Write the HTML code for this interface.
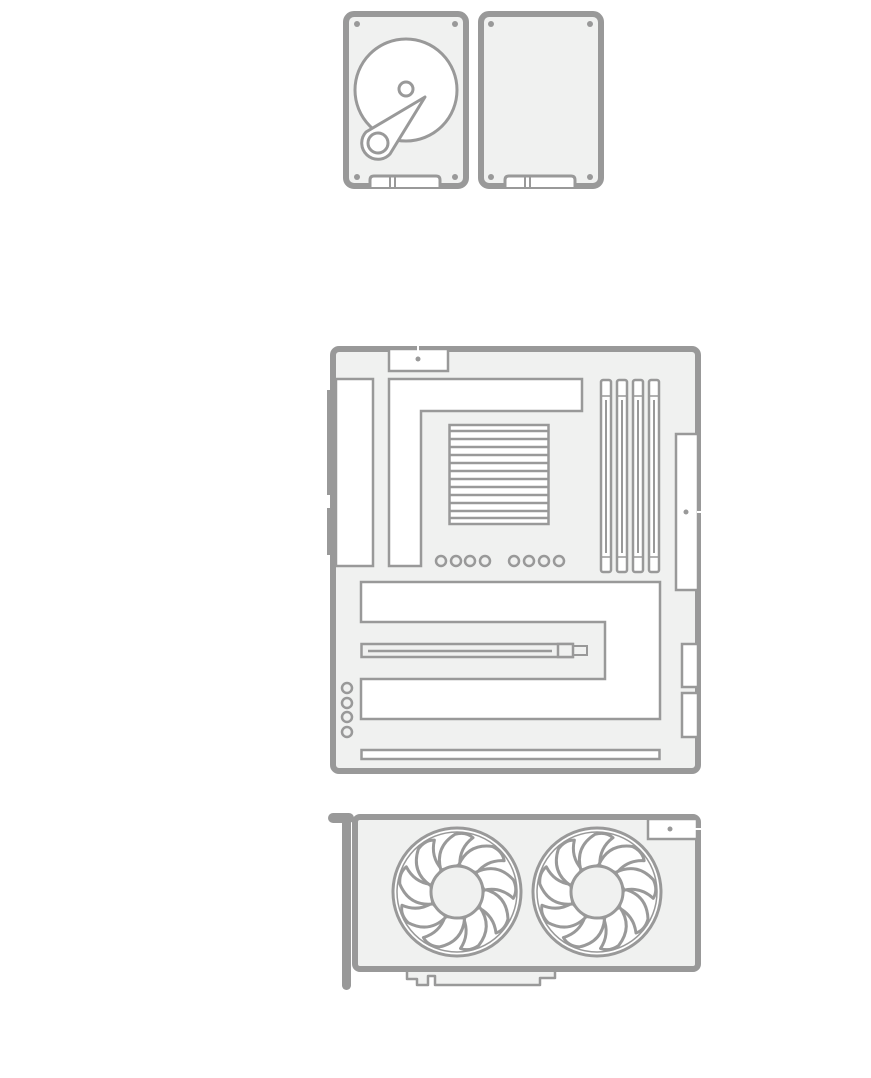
<!DOCTYPE html>
<html><head><meta charset="utf-8"><style>html,body{margin:0;padding:0;background:#fff}svg{display:block}</style></head>
<body>
<svg width="871" height="1078" viewBox="0 0 871 1078" xmlns="http://www.w3.org/2000/svg">
<defs>
<g id="blade"><path d="M27,-3 Q50,3 51,27 Q48,38 39,41 Q37,24 22,16 Z" fill="#fff" stroke="#999" stroke-width="3" stroke-linejoin="round"/></g>
<g id="fan">
<circle r="64" fill="#fff" stroke="#999" stroke-width="3"/>
<circle r="60" fill="none" stroke="#999" stroke-width="1.5"/>
<use href="#blade"/><use href="#blade" transform="rotate(40)"/><use href="#blade" transform="rotate(80)"/><use href="#blade" transform="rotate(120)"/><use href="#blade" transform="rotate(160)"/><use href="#blade" transform="rotate(200)"/><use href="#blade" transform="rotate(240)"/><use href="#blade" transform="rotate(280)"/><use href="#blade" transform="rotate(320)"/>
<circle r="26" fill="#f0f1f0" stroke="#999" stroke-width="3"/>
</g>
</defs>
<g fill="none" stroke="#999">
<!-- HDD -->
<rect x="346" y="14" width="120" height="172" rx="8" fill="#f0f1f0" stroke-width="6"/>
<circle cx="406" cy="90" r="51" fill="#fff" stroke-width="3"/>
<circle cx="406" cy="89" r="7" stroke-width="3"/>
<path d="M425,97 L390,154 A16,16 0 1 1 366,132 Z" fill="#fff" stroke-width="3" stroke-linejoin="round"/>
<circle cx="378" cy="143" r="10" fill="#fff" stroke-width="3"/>
<path d="M370,187 V180 Q370,176 374,176 H436 Q440,176 440,180 V187" fill="#fff" stroke-width="3"/>
<line x1="390" y1="176" x2="390" y2="187" stroke-width="2"/><line x1="395" y1="176" x2="395" y2="187" stroke-width="2"/>
<g fill="#999" stroke="none"><circle cx="357" cy="24" r="3"/><circle cx="455" cy="24" r="3"/><circle cx="357" cy="177" r="3"/><circle cx="455" cy="177" r="3"/></g>
<!-- SSD -->
<rect x="481" y="14" width="120" height="172" rx="8" fill="#f0f1f0" stroke-width="6"/>
<path d="M505,187 V180 Q505,176 509,176 H571 Q575,176 575,180 V187" fill="#fff" stroke-width="3"/>
<line x1="525" y1="176" x2="525" y2="187" stroke-width="2"/><line x1="530" y1="176" x2="530" y2="187" stroke-width="2"/>
<g fill="#999" stroke="none"><circle cx="491" cy="24" r="3"/><circle cx="590" cy="24" r="3"/><circle cx="491" cy="177" r="3"/><circle cx="590" cy="177" r="3"/></g>

<!-- Motherboard -->
<rect x="333" y="349" width="365" height="422" rx="6" fill="#f0f1f0" stroke-width="6"/>
<rect x="327" y="390" width="6" height="105" fill="#999" stroke="none"/>
<rect x="327" y="508" width="6" height="47" fill="#999" stroke="none"/>
<rect x="389" y="349" width="59" height="22" fill="#fff" stroke-width="2.5"/>
<line x1="418" y1="344" x2="418" y2="351" stroke="#fff" stroke-width="2"/>
<circle cx="418" cy="359" r="2.5" fill="#999" stroke="none"/>
<rect x="336" y="379" width="37" height="187" fill="#fff" stroke-width="2.5"/>
<path d="M389,379 H582 V411 H421 V566 H389 Z" fill="#fff" stroke-width="2.5"/>
<rect x="449.5" y="425" width="99" height="99" fill="#fff" stroke-width="2.5"/>
<g stroke-width="2.5"><line x1="450" y1="431" x2="548" y2="431"/><line x1="450" y1="439" x2="548" y2="439"/><line x1="450" y1="447" x2="548" y2="447"/><line x1="450" y1="455" x2="548" y2="455"/><line x1="450" y1="463" x2="548" y2="463"/><line x1="450" y1="471" x2="548" y2="471"/><line x1="450" y1="479" x2="548" y2="479"/><line x1="450" y1="487" x2="548" y2="487"/><line x1="450" y1="495" x2="548" y2="495"/><line x1="450" y1="503" x2="548" y2="503"/><line x1="450" y1="511" x2="548" y2="511"/><line x1="450" y1="518" x2="548" y2="518"/></g>
<g stroke-width="2.5"><circle cx="441" cy="561" r="5"/><circle cx="456" cy="561" r="5"/><circle cx="470" cy="561" r="5"/><circle cx="485" cy="561" r="5"/><circle cx="514" cy="561" r="5"/><circle cx="529" cy="561" r="5"/><circle cx="544" cy="561" r="5"/><circle cx="559" cy="561" r="5"/></g>
<g stroke-width="2.5" fill="#fff">
<rect x="601" y="380" width="10" height="192" rx="2"/><rect x="617" y="380" width="10" height="192" rx="2"/><rect x="633" y="380" width="10" height="192" rx="2"/><rect x="649" y="380" width="10" height="192" rx="2"/>
</g>
<g stroke-width="1.5"><line x1="601" y1="396" x2="611" y2="396"/><line x1="617" y1="396" x2="627" y2="396"/><line x1="633" y1="396" x2="643" y2="396"/><line x1="649" y1="396" x2="659" y2="396"/>
<line x1="601" y1="557" x2="611" y2="557"/><line x1="617" y1="557" x2="627" y2="557"/><line x1="633" y1="557" x2="643" y2="557"/><line x1="649" y1="557" x2="659" y2="557"/></g>
<g stroke-width="2"><line x1="606" y1="400" x2="606" y2="553"/><line x1="622" y1="400" x2="622" y2="553"/><line x1="638" y1="400" x2="638" y2="553"/><line x1="654" y1="400" x2="654" y2="553"/></g>
<rect x="676" y="434" width="22" height="156" fill="#fff" stroke-width="2.5"/>
<circle cx="686" cy="512" r="2.5" fill="#999" stroke="none"/>
<line x1="697" y1="512" x2="704" y2="512" stroke="#fff" stroke-width="2"/>
<path d="M361,582 H660 V719 H361 V679 H605 V622 H361 Z" fill="#fff" stroke-width="2.5"/>
<rect x="361.5" y="644" width="211" height="13" fill="#f0f1f0" stroke-width="2.5"/>
<line x1="368" y1="651" x2="552" y2="651" stroke-width="2.5"/>
<rect x="558" y="644" width="15" height="13" fill="#f0f1f0" stroke-width="2.5"/>
<path d="M573,646 H587 V655 H573" stroke-width="2"/>
<rect x="682" y="644" width="16" height="43" fill="#fff" stroke-width="2.5"/>
<rect x="682" y="693" width="16" height="44" fill="#fff" stroke-width="2.5"/>
<g stroke-width="2.5"><circle cx="347" cy="688" r="5"/><circle cx="347" cy="703" r="5"/><circle cx="347" cy="717" r="5"/><circle cx="347" cy="732" r="5"/></g>
<rect x="361.5" y="750" width="298" height="9" fill="#fff" stroke-width="2.5"/>

<!-- GPU -->
<path d="M407,971 V979 H417 V985 H428 V976 H435 V985 H540 V978 H555 V971" fill="#f0f1f0" stroke-width="2.5" stroke-linejoin="round"/>
<rect x="355" y="817" width="343" height="152" rx="5" fill="#f0f1f0" stroke-width="6"/>
<rect x="342" y="815" width="9" height="175" rx="4.5" fill="#999" stroke="none"/>
<rect x="328" y="813" width="26" height="10" rx="5" fill="#999" stroke="none"/>
<rect x="648" y="819" width="49" height="20" fill="#fff" stroke-width="2.5"/>
<circle cx="670" cy="829" r="2.5" fill="#999" stroke="none"/>
<line x1="693" y1="829" x2="705" y2="829" stroke="#fff" stroke-width="2"/>
</g>
<use href="#fan" transform="translate(457,892)"/>
<use href="#fan" transform="translate(597,892)"/>
</svg>
</body></html>
